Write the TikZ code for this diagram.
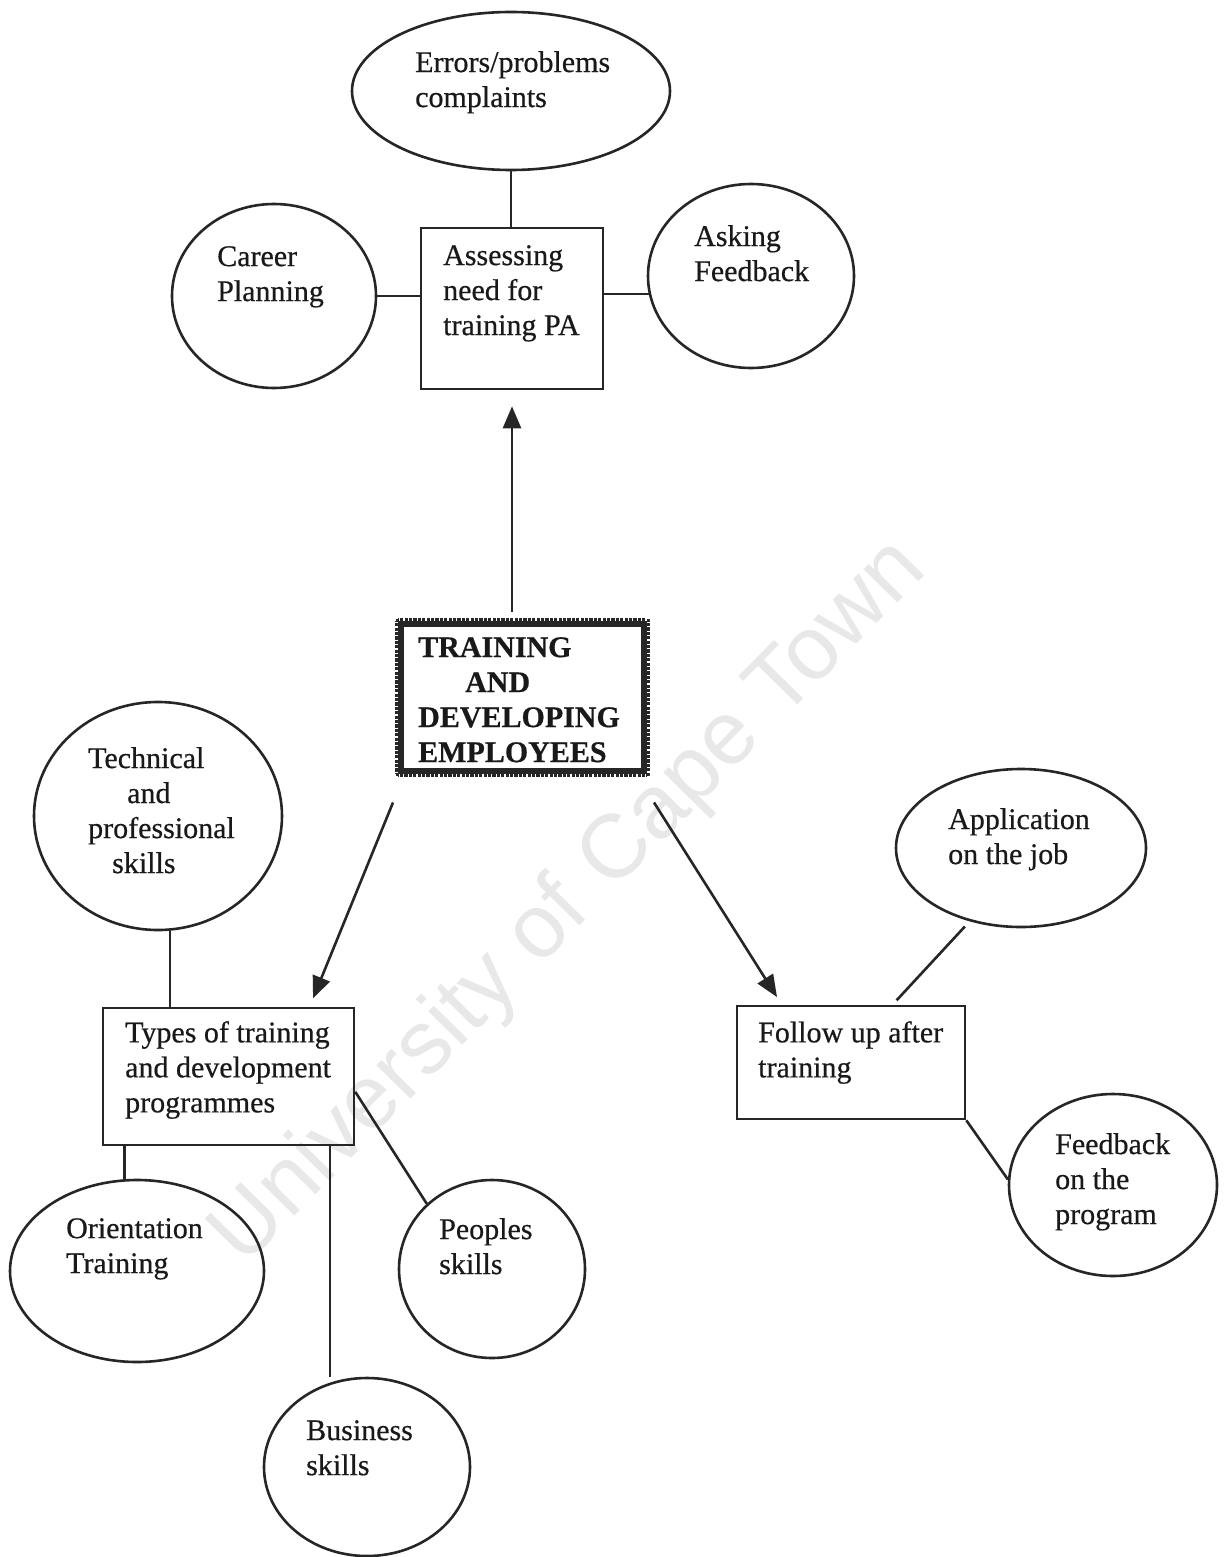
\documentclass[tikz,border=0pt]{standalone}
\usepackage{fontspec}
\setmainfont{Liberation Serif}
\newfontfamily\scanfont{Liberation Serif}[FakeBold=0.5]
\newfontfamily\wmfont{Liberation Sans}
\usetikzlibrary{shapes.geometric,arrows.meta,calc}

\begin{document}
\begin{tikzpicture}[x=1pt,y=-1pt,
  ink/.style={draw=black!85, line width=2.6pt},
  bubble/.style={ellipse, ink, inner sep=0pt},
  panel/.style={rectangle, ink, inner sep=0pt},
  hub/.style={rectangle, draw=black!85, line width=9pt, inner sep=0pt},
  txt/.style={anchor=north west, align=left, inner sep=0pt,
              font=\scanfont\fontsize{30}{35}\selectfont, text=black!90},
  arr/.style={ink, -{Triangle[length=22pt,width=18pt]}}
]
\fill[white] (0,0) rectangle (1223,1557);
\useasboundingbox (0,0) rectangle (1223,1557);

% faint diagonal watermark
\node[rotate=45.5, text=black!9, inner sep=0pt,
      font=\wmfont\fontsize{90}{90}\selectfont] (wm) at (570,903)
  {University of\hspace{30pt}Cape Town};

% ---------- shapes ----------
\node[bubble, minimum width=318pt, minimum height=158pt] (errors) at (511,91) {};
\node[panel, minimum width=182pt, minimum height=161pt] (assess) at (512,308.5) {};
\node[bubble, minimum width=204pt, minimum height=184pt] (career) at (274,296) {};
\node[bubble, minimum width=206pt, minimum height=184pt] (asking) at (751,276) {};
\node[hub, minimum width=246pt, minimum height=150pt] (hubbox) at (522.5,697) {};
\draw[white, line width=6pt, dash pattern=on 1.2pt off 3.2pt]
  (hubbox.north west) rectangle (hubbox.south east);
\node[bubble, minimum width=248pt, minimum height=228pt] (tech) at (158,816) {};
\node[panel, minimum width=251pt, minimum height=137pt] (types) at (228.5,1076.5) {};
\node[bubble, minimum width=254pt, minimum height=182pt] (orient) at (137,1271) {};
\node[bubble, minimum width=206pt, minimum height=178pt] (business) at (367,1467) {};
\node[bubble, minimum width=186pt, minimum height=178pt] (peoples) at (492,1269) {};
\node[panel, minimum width=228pt, minimum height=113pt] (follow) at (851,1062.5) {};
\node[bubble, minimum width=250pt, minimum height=158pt] (app) at (1021,848) {};
\node[bubble, minimum width=208pt, minimum height=182pt] (fb) at (1113,1185) {};

% ---------- texts ----------
\node[txt] (errorsT) at (415,51) {Errors/problems\\complaints};
\node[txt] (careerT) at (217,246) {Career\\Planning};
\node[txt] (assessT) at (443,245) {Assessing\\need for\\training PA};
\node[txt] (askingT) at (694,225) {Asking\\Feedback};
\node[txt, font=\scanfont\fontsize{30}{35}\selectfont\bfseries] (hubT) at (418,637)
  {TRAINING\\ \hspace*{47pt}AND\\DEVELOPING\\EMPLOYEES};
\node[txt] (techT) at (88,747)
  {Technical\\ \hspace*{39pt}and\\professional\\ \hspace*{24pt}skills};
\node[txt] (typesT) at (125,1021) {Types of training\\and development\\programmes};
\node[txt] (followT) at (758,1021) {Follow up after\\training};
\node[txt] (appT) at (948,808) {Application\\on the job};
\node[txt] (fbT) at (1055,1133) {Feedback\\on the\\program};
\node[txt] (orientT) at (66,1218) {Orientation\\Training};
\node[txt] (peoplesT) at (439,1218) {Peoples\\skills};
\node[txt] (businessT) at (306,1420) {Business\\skills};

% ---------- connectors ----------
% top cluster
\draw[ink] (errors.south) -- (errors.south |- assess.north);
\draw[ink] (career.east) -- (career.east -| assess.west);
\draw[ink] (asking.190) -- (asking.190 -| assess.east);
\draw[arr, shorten <=6pt, shorten >=16pt] (assess.south |- hubbox.north) -- (assess.south);

% from the centre downwards
\coordinate (hubL) at ($(hubbox.south west)+(-2,26)$);
\coordinate (hubR) at ($(hubbox.south east)+(4,26)$);
\coordinate (typesIn) at ($(types.north west)!0.82!(types.north east)$);
\coordinate (followIn) at ($(follow.north west)!0.2!(follow.north east)$);
\draw[arr, shorten >=9pt] (hubL) -- (typesIn);
\draw[arr, shorten >=9pt] (hubR) -- (followIn);

% types cluster
\coordinate (typesTop) at ($(types.north west)!0.27!(types.north east)$);
\coordinate (typesOr) at ($(types.south west)!0.09!(types.south east)$);
\coordinate (typesBu) at ($(types.south west)!0.90!(types.south east)$);
\coordinate (typesPe) at ($(types.north east)!0.61!(types.south east)$);
\draw[ink] (typesTop) -- (typesTop |- tech.south);
\draw[ink] (typesOr) -- (typesOr |- orient.north);
\draw[ink] (typesBu) -- (typesBu |- business.north);
\draw[ink] (typesPe) -- (peoples.135);

% follow-up cluster
\coordinate (followApp) at ($(follow.north west)!0.68!(follow.north east)$);
\draw[ink, shorten <=7pt, shorten >=6pt] (app.235) -- (followApp);
\draw[ink] (follow.south east) -- (fb.177);
\end{tikzpicture}
\end{document}
